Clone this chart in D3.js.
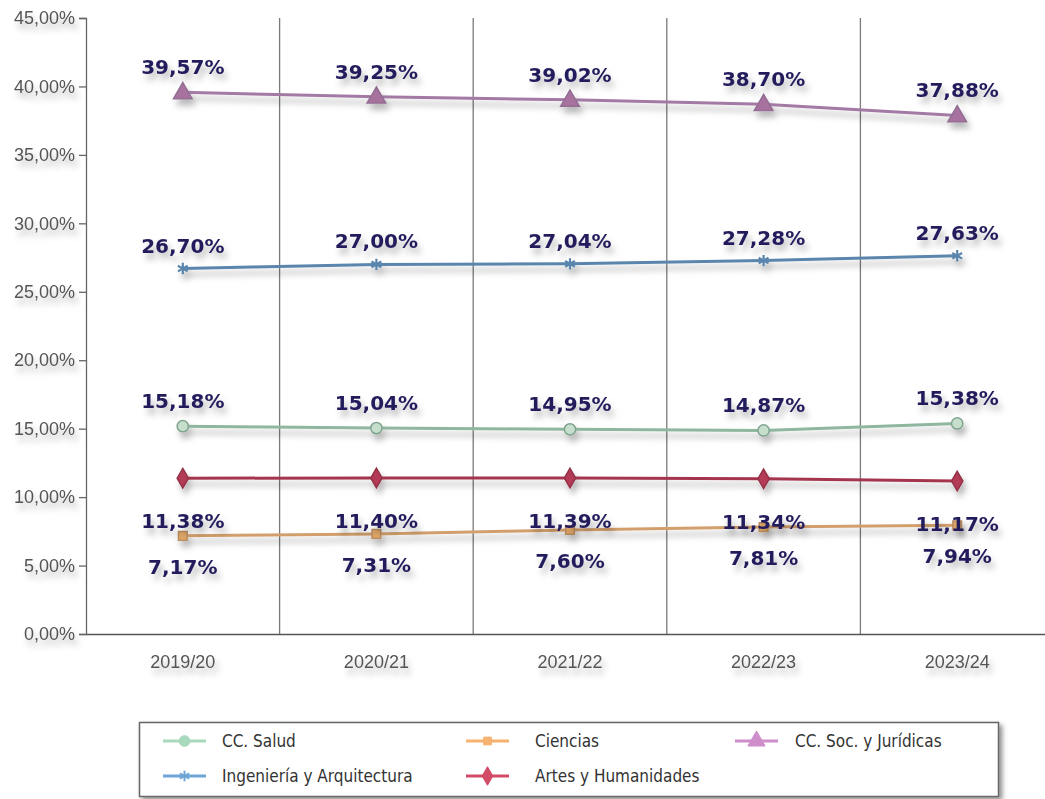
<!DOCTYPE html>
<html>
<head>
<meta charset="utf-8">
<script src="https://cdn.jsdelivr.net/npm/d3@7"></script>
<style>
  body { margin: 0; background: #fff; }
</style>
</head>
<body>
<div id="container"></div>
<script>
const width = 1045;
const height = 799;

// data
const years = ['2019/20', '2020/21', '2021/22', '2022/23', '2023/24'];
const salud = [15.18, 15.04, 14.95, 14.87, 15.38];
const ciencias = [7.17, 7.31, 7.60, 7.81, 7.94];
const sociales = [39.57, 39.25, 39.02, 38.70, 37.88];
const ingenieria = [26.70, 27.00, 27.04, 27.28, 27.63];
const artes = [11.38, 11.40, 11.39, 11.34, 11.17];
const yTicks = [0, 5, 10, 15, 20, 25, 30, 35, 40, 45];

const series = [
  { name: 'CC. Salud', values: salud, line: '#8fb69f', fill: '#c6dfcd', legend: '#a9d9bc', symbol: 'circle', dy: -18 },
  { name: 'Ciencias', values: ciencias, line: '#d29f6c', fill: '#e2a869', legend: '#f6b271', symbol: 'square', dy: 38 },
  { name: 'CC. Soc. y  Jurídicas', values: sociales, line: '#a27aa4', fill: '#a8729f', legend: '#cf8dcb', symbol: 'triangle', dy: -18 },
  { name: 'Ingeniería y Arquitectura', values: ingenieria, line: '#5a86ad', fill: '#5a86ad', legend: '#6fa6d8', symbol: 'asterisk', dy: -16 },
  { name: 'Artes y Humanidades', values: artes, line: '#a5364f', fill: '#b33a56', legend: '#d24b67', symbol: 'diamond', dy: 50 }
];

const locale = d3.formatLocale({ decimal: ',', thousands: '.', grouping: [3], currency: ['', '€'] });
const fmt = locale.format('.2f');

const left = 86, plotTop = 18, plotBottom = 634;
const x = d3.scaleBand().domain(years).range([left, left + 5 * 193.6]);
const y = d3.scaleLinear().domain([0, 45]).range([plotBottom, plotTop]);
const cx = d => x(d) + x.bandwidth() / 2;

const svg = d3.select('#container').append('svg')
  .attr('width', width)
  .attr('height', height);

const defs = svg.append('defs');
defs.append('filter').attr('id', 'shadow')
  .attr('x', '-20%').attr('y', '-50%').attr('width', '150%').attr('height', '250%')
  .append('feDropShadow')
  .attr('dx', 3).attr('dy', 6).attr('stdDeviation', 3)
  .attr('flood-color', '#000').attr('flood-opacity', 0.28);
defs.append('filter').attr('id', 'boxshadow')
  .attr('x', '-5%').attr('y', '-20%').attr('width', '110%').attr('height', '150%')
  .append('feDropShadow')
  .attr('dx', 3).attr('dy', 3).attr('stdDeviation', 2.5)
  .attr('flood-color', '#000').attr('flood-opacity', 0.45);

// vertical separators between categories
svg.append('g')
  .selectAll('line')
  .data(years.slice(1))
  .join('line')
  .attr('x1', d => x(d)).attr('x2', d => x(d))
  .attr('y1', plotTop).attr('y2', plotBottom)
  .attr('stroke', '#7a7a7a').attr('stroke-width', 1.3);

// y axis
svg.append('g')
  .attr('transform', `translate(${left},0)`)
  .call(d3.axisLeft(y).tickValues(yTicks).tickSize(7).tickFormat(d => fmt(d) + '%'))
  .call(g => g.select('.domain').attr('stroke', '#666').attr('stroke-width', 1.3))
  .call(g => g.selectAll('.tick line').attr('stroke', '#666').attr('stroke-width', 1.3))
  .call(g => g.selectAll('.tick text')
    .attr('x', -11)
    .attr('fill', '#555')
    .attr('font-family', "'Liberation Sans', Arial, sans-serif")
    .attr('font-size', 18)
    .attr('filter', 'url(#shadow)'));

// x axis
svg.append('g')
  .attr('transform', `translate(0,${plotBottom})`)
  .call(d3.axisBottom(x).tickSize(0).tickSizeOuter(0))
  .call(g => g.select('.domain').attr('stroke', '#555').attr('stroke-width', 1.5))
  .call(g => g.selectAll('.tick text')
    .attr('dy', 0)
    .attr('y', 34)
    .attr('fill', '#555')
    .attr('font-family', "'Liberation Sans', Arial, sans-serif")
    .attr('font-size', 18)
    .attr('filter', 'url(#shadow)'));

const symbolPath = {
  circle: d3.symbol(d3.symbolCircle, 100)(),
  square: d3.symbol(d3.symbolSquare, 75)(),
  triangle: d3.symbol(d3.symbolTriangle, 150)(),
  diamond: d3.symbol(d3.symbolDiamond, 110)(),
  asterisk: d3.symbol(d3.symbolAsterisk, 90)()
};

const line = d3.line().x(d => cx(d.year)).y(d => y(d.value));

const groups = svg.append('g')
  .selectAll('g.series')
  .data(series)
  .join('g')
  .attr('class', 'series')
  .attr('filter', 'url(#shadow)');

groups.append('path')
  .attr('fill', 'none')
  .attr('stroke', s => s.line)
  .attr('stroke-width', 3)
  .attr('d', s => line(s.values.map((v, i) => ({ year: years[i], value: v }))));

groups.selectAll('path.mark')
  .data(s => s.values.map((v, i) => ({ s, year: years[i], value: v })))
  .join('path')
  .attr('class', 'mark')
  .attr('transform', d => `translate(${cx(d.year)},${y(d.value) + (d.s.symbol === 'triangle' ? 1 : 0)})`)
  .attr('d', d => symbolPath[d.s.symbol])
  .attr('fill', d => d.s.symbol === 'asterisk' ? 'none' : d.s.fill)
  .attr('stroke', d => d.s.symbol === 'asterisk' ? d.s.line : d3.color(d.s.line).darker(0.3))
  .attr('stroke-width', d => d.s.symbol === 'asterisk' ? 2.2 : 1.5);

// data labels
svg.append('g')
  .selectAll('text')
  .data(series.flatMap(s => s.values.map((v, i) => ({ s, year: years[i], value: v }))))
  .join('text')
  .attr('x', d => cx(d.year))
  .attr('y', d => y(d.value) + d.s.dy)
  .attr('text-anchor', 'middle')
  .attr('font-family', "'DejaVu Sans', Verdana, sans-serif")
  .attr('font-weight', 'bold')
  .attr('font-size', 20)
  .attr('fill', '#231d5c')
  .attr('filter', 'url(#shadow)')
  .text(d => fmt(d.value) + '%');

// legend
const legend = svg.append('g');
legend.append('rect')
  .attr('x', 139.5).attr('y', 722.5)
  .attr('width', 859).attr('height', 74)
  .attr('fill', '#fff')
  .attr('stroke', '#666').attr('stroke-width', 1.5)
  .attr('filter', 'url(#boxshadow)');

const legendPos = [
  { x: 163, y: 741 }, { x: 466, y: 741 }, { x: 735, y: 741 },
  { x: 163, y: 776 }, { x: 466, y: 776 }
];
const legendSymbol = {
  circle: d3.symbol(d3.symbolCircle, 90)(),
  square: d3.symbol(d3.symbolSquare, 60)(),
  triangle: d3.symbol(d3.symbolTriangle, 130)(),
  diamond: d3.symbol(d3.symbolDiamond, 100)(),
  asterisk: d3.symbol(d3.symbolAsterisk, 80)()
};

const items = legend.selectAll('g.item')
  .data(series)
  .join('g')
  .attr('class', 'item')
  .attr('transform', (s, i) => `translate(${legendPos[i].x},${legendPos[i].y})`);

items.append('line')
  .attr('x1', 0).attr('x2', 43)
  .attr('stroke', s => s.legend).attr('stroke-width', 3);
items.append('path')
  .attr('transform', 'translate(21.5,0)')
  .attr('d', s => legendSymbol[s.symbol])
  .attr('fill', s => s.symbol === 'asterisk' ? 'none' : s.legend)
  .attr('stroke', s => s.legend)
  .attr('stroke-width', s => s.symbol === 'asterisk' ? 2 : 1);
items.append('text')
  .attr('x', s => s.symbol === 'circle' || s.symbol === 'asterisk' ? 59 : (s.symbol === 'triangle' ? 60 : 69))
  .attr('dy', '0.35em')
  .attr('font-family', "'Liberation Sans Narrow', 'Arial Narrow', 'DejaVu Sans Condensed', sans-serif")
  .attr('font-size', 17)
  .attr('fill', '#333')
  .text(s => s.name);
</script>
</body>
</html>
